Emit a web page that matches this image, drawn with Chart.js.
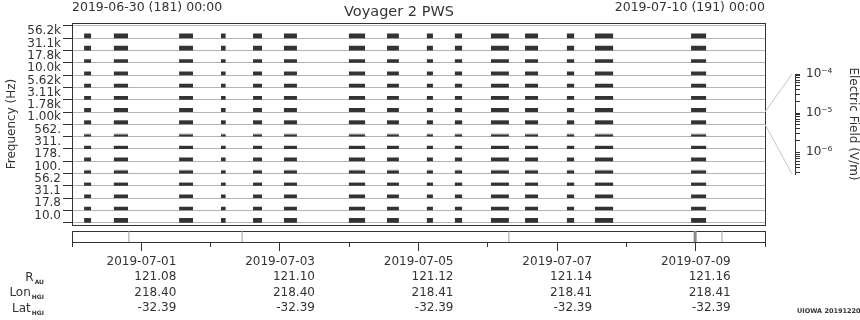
<!DOCTYPE html>
<html>
<head>
<meta charset="utf-8">
<title>Voyager 2 PWS</title>
<script src="https://cdn.jsdelivr.net/npm/chart.js@4.4.1/dist/chart.umd.min.js"></script>
<style>
  html, body { margin: 0; padding: 0; background: #fff; }
  #wrap { position: relative; width: 860px; height: 320px; overflow: hidden;
          font-family: 'DejaVu Sans', sans-serif; color: #333; }
  #wrap canvas { position: absolute; left: 0; top: 0; }
  .txt { position: absolute; font-size: 12px; line-height: 14px; white-space: nowrap; z-index: 5; }
  .row { right: 816px; text-align: right; }
  .sub { font-size: 6px; font-weight: bold; position: relative; top: 3px; margin-left: 1px; }
  .stamp { font-size: 6.5px; font-weight: bold; line-height: 8px; }
</style>
</head>
<body>
<div id="wrap">
  <canvas id="mainChart" width="860" height="320"></canvas>
  <canvas id="stripChart" width="860" height="320"></canvas>
  <canvas id="scaleChart" width="860" height="320"></canvas>

  <div class="txt" style="left:72px; top:0px; font-size:12.5px;">2019-06-30 (181) 00:00</div>
  <div class="txt" style="left:344px; top:3px; font-size:14.5px; line-height:16px;">Voyager 2 PWS</div>
  <div class="txt" style="right:95px; top:0px; font-size:12.5px;">2019-07-10 (191) 00:00</div>
  <div class="txt row" style="top:270px;">R<span class="sub">AU</span></div>
  <div class="txt row" style="top:285px;">Lon<span class="sub">HGI</span></div>
  <div class="txt row" style="top:301px;">Lat<span class="sub">HGI</span></div>
  <div class="txt stamp" style="left:797px; top:307px;">UIOWA 20191220</div>
</div>

<script>
// Kanal frekuensi, dari bawah ke atas
const FREQ_LABELS = ['10.0', '17.8', '31.1', '56.2', '100.', '178.', '311.', '562.',
                     '1.00k', '1.78k', '3.11k', '5.62k', '10.0k', '17.8k', '31.1k', '56.2k'];

// Tinggi sinyal per kanal (fraksi lebar pita), hitam dan abu-abu
const BLACK_LEVEL = [0.38, 0.30, 0.30, 0.22, 0.22, 0.30, 0.24, 0.16,
                     0.30, 0.33, 0.30, 0.30, 0.30, 0.30, 0.38, 0.38];
const GRAY_LEVEL  = [0.38, 0.30, 0.30, 0.30, 0.30, 0.30, 0.28, 0.26,
                     0.33, 0.33, 0.30, 0.30, 0.30, 0.30, 0.38, 0.38];

// Segmen data (jam sejak 2019-06-30 00:00)
const SEG_START = [4.2, 14.5, 37.1, 51.6, 62.7, 73.4, 95.9, 109.1, 122.9, 132.6, 145.1, 156.9, 171.4, 181.1, 214.4];
const SEG_END   = [6.6, 19.4, 41.9, 53.2, 65.8, 77.9, 101.5, 113.2, 125.0, 135.1, 151.3, 161.4, 173.9, 187.4, 219.6];

// Batas file di strip bawah (jam)
const FILE_MARKS = [19.7, 58.9, 151.3, 225.1];
const THICK_MARKS = [215.8];

// Efemeris
const EPH_HOURS = [24, 72, 120, 168, 216];
const DATES   = ['2019-07-01', '2019-07-03', '2019-07-05', '2019-07-07', '2019-07-09'];
const R_AU    = ['121.08', '121.10', '121.12', '121.14', '121.16'];
const LON_HGI = ['218.40', '218.40', '218.41', '218.41', '218.41'];
const LAT_HGI = ['-32.39', '-32.39', '-32.39', '-32.39', '-32.39'];

// Skala warna
const CB_MIN = 2.8e-7, CB_MAX = 1e-4;
const CB_MAJORS = [1e-6, 1e-5, 1e-4];
const CB_MAJOR_LABELS = ['10⁻⁶', '10⁻⁵', '10⁻⁴'];
const CB_CHANNEL = 8; // kanal 1.00k

const T_MIN = 0, T_MAX = 240;
const DARK = '#333333';

Chart.defaults.font.family = "'DejaVu Sans', sans-serif";
Chart.defaults.font.size = 12;
Chart.defaults.color = DARK;

const baseOptions = {
  responsive: false,
  animation: false,
  events: [],
  plugins: { legend: { display: false }, tooltip: { enabled: false } }
};

// Sumbu kosong, hanya untuk garis bingkai
function frameAxis(position, min, max) {
  return {
    type: 'linear', position, min, max,
    ticks: { display: false },
    grid: { display: false, drawTicks: false },
    border: { color: DARK, width: 1 },
    afterFit: s => { if (s.isHorizontal()) s.height = 0; else s.width = 0; }
  };
}

function bandPx(chart) {
  const s = chart.scales.y;
  if (!s) return 4;
  const px = Math.abs(s.getPixelForValue(1) - s.getPixelForValue(0));
  return isFinite(px) && px > 0 ? px : 12;
}

function segmentPoints(ch, level) {
  const y = ch + level / 2;
  const pts = [];
  SEG_START.forEach((s, i) => {
    pts.push({ x: s, y }, { x: SEG_END[i], y }, { x: SEG_END[i], y: null });
  });
  return pts;
}

function barDataset(ch, level, color, order) {
  return {
    data: segmentPoints(ch, level),
    xAxisID: 'x',
    yAxisID: 'y',
    borderColor: color,
    borderWidth: ctx => level * bandPx(ctx.chart),
    borderCapStyle: 'butt',
    pointRadius: 0,
    spanGaps: false,
    order
  };
}

const datasets = [];
FREQ_LABELS.forEach((_, ch) => {
  if (GRAY_LEVEL[ch] > BLACK_LEVEL[ch]) datasets.push(barDataset(ch, GRAY_LEVEL[ch], '#a6a6a6', 2));
  datasets.push(barDataset(ch, BLACK_LEVEL[ch], DARK, 1));
});

// Chart utama
const mainChart = new Chart(document.getElementById('mainChart'), {
  type: 'line',
  data: { datasets },
  options: {
    ...baseOptions,
    layout: { padding: { top: 23, right: 95, bottom: 95, left: 0 }, autoPadding: false },
    scales: {
      x: frameAxis('bottom', T_MIN, T_MAX),
      y: {
        type: 'linear', position: 'left', min: -0.19, max: 16.24,
        afterBuildTicks: s => { s.ticks = FREQ_LABELS.concat(['']).map((_, i) => ({ value: i })); },
        afterFit: s => { s.width = 72; },
        ticks: {
          autoSkip: false, padding: 2, labelOffset: -7,
          callback: v => FREQ_LABELS[v] ?? ''
        },
        grid: { color: '#b4b4b4', tickColor: DARK, tickLength: 9, lineWidth: 1 },
        border: { color: DARK, width: 1 },
        title: { display: true, text: 'Frequency (Hz)', padding: { top: 5, bottom: 0 } }
      },
      xTop: frameAxis('top', T_MIN, T_MAX),
      yRight: frameAxis('right', 0, 1)
    }
  }
});

// Strip waktu bawah dengan efemeris
function markDataset(hours, width, color) {
  return {
    data: hours.flatMap(h => [{ x: h, y: 0 }, { x: h, y: 1 }, { x: h, y: null }]),
    xAxisID: 'x',
    yAxisID: 'y',
    borderColor: color,
    borderWidth: width,
    pointRadius: 0,
    spanGaps: false
  };
}

new Chart(document.getElementById('stripChart'), {
  type: 'line',
  data: { datasets: [markDataset(FILE_MARKS, 1, '#a0a0a0'), markDataset(THICK_MARKS, 3, '#8c8c8c')] },
  options: {
    ...baseOptions,
    layout: { padding: { top: 231, right: 95, bottom: 0, left: 72 }, autoPadding: false },
    scales: {
      x: {
        type: 'linear', position: 'bottom', weight: 0, min: T_MIN, max: T_MAX,
        afterBuildTicks: s => {
          const t = [];
          for (let h = T_MIN; h <= T_MAX; h += 24) t.push({ value: h });
          s.ticks = t;
        },
        afterFit: s => { s.height = 5; },
        ticks: { display: false },
        grid: { drawOnChartArea: false, tickLength: 5, tickColor: DARK },
        border: { color: DARK, width: 1 }
      },
      xLab: {
        type: 'linear', position: 'bottom', weight: 1, min: T_MIN, max: T_MAX,
        afterBuildTicks: s => { s.ticks = EPH_HOURS.map(v => ({ value: v })); },
        afterFit: s => { s.height = 73; },
        ticks: {
          autoSkip: false, maxRotation: 0, minRotation: 0,
          align: 'end', labelOffset: 35, padding: 3,
          font: { size: 12, lineHeight: 1.29 },
          callback: (v, i) => [DATES[i], R_AU[i], LON_HGI[i], LAT_HGI[i]]
        },
        grid: { drawOnChartArea: false, tickLength: 4, tickColor: DARK },
        border: { display: false }
      },
      xTop: frameAxis('top', T_MIN, T_MAX),
      y: frameAxis('left', 0, 1),
      yRight: frameAxis('right', 0, 1)
    }
  }
});

// Garis penghubung dari pita kanal ke skala warna
const connectorPlugin = {
  id: 'connector',
  afterDraw(chart) {
    const ys = mainChart.scales.y;
    const cb = chart.scales.cb;
    const { ctx } = chart;
    const x0 = mainChart.chartArea.right;
    const x1 = cb.left - 3;
    ctx.save();
    ctx.strokeStyle = '#c4c4c4';
    ctx.lineWidth = 1;
    ctx.beginPath();
    ctx.moveTo(x0, ys.getPixelForValue(CB_CHANNEL + 1));
    ctx.lineTo(x1, cb.top);
    ctx.moveTo(x0, ys.getPixelForValue(CB_CHANNEL));
    ctx.lineTo(x1, cb.bottom);
    ctx.stroke();
    ctx.restore();
  }
};

const cbTicks = [];
for (let e = -7; e <= -5; e++) {
  for (let m = 1; m <= 9; m++) {
    const v = m * Math.pow(10, e);
    if (v >= CB_MIN && v <= CB_MAX) cbTicks.push(v);
  }
}
cbTicks.push(CB_MAX);

new Chart(document.getElementById('scaleChart'), {
  type: 'line',
  data: { datasets: [] },
  options: {
    ...baseOptions,
    layout: { padding: { top: 74, right: 0, bottom: 146, left: 765 }, autoPadding: false },
    scales: {
      x: { type: 'linear', display: false, min: 0, max: 1 },
      cb: {
        type: 'logarithmic', position: 'right', min: CB_MIN, max: CB_MAX,
        afterBuildTicks: s => { s.ticks = cbTicks.map(v => ({ value: v })); },
        afterFit: s => { s.width = 65; },
        ticks: {
          autoSkip: false, padding: 6,
          callback: v => {
            const k = CB_MAJORS.findIndex(m => Math.abs(m - v) / m < 1e-6);
            return k >= 0 ? CB_MAJOR_LABELS[k] : '';
          }
        },
        grid: { drawOnChartArea: false, tickLength: 5, tickColor: DARK },
        border: { color: DARK, width: 1 },
        title: { display: true, text: 'Electric Field (V/m)', padding: { top: 0, bottom: 4 } }
      }
    }
  },
  plugins: [connectorPlugin]
});
</script>
</body>
</html>
